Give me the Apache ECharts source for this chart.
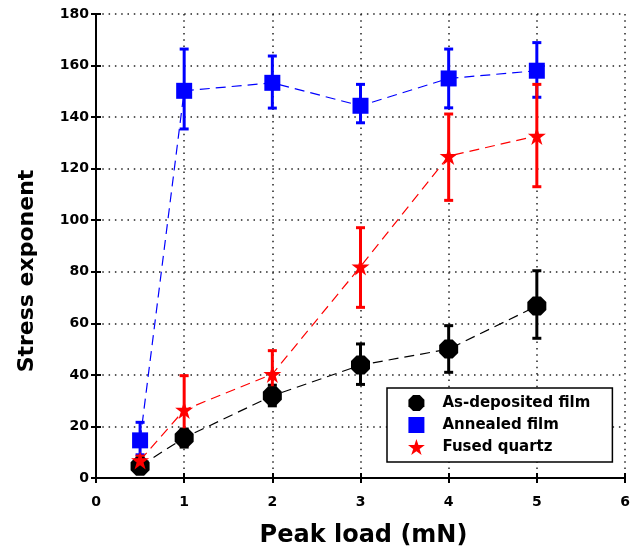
<!DOCTYPE html>
<html>
<head>
<meta charset="utf-8">
<script src="https://cdn.jsdelivr.net/npm/echarts@6/dist/echarts.min.js"></script>
<style>
  html, body { margin: 0; padding: 0; background: #fff; }
  #chart { width: 640px; height: 551px; }
</style>
</head>
<body>
<div id="chart"></div>
<script>
// Peak load values (mN)
const loads = [0.5, 1, 2, 3, 4, 5];

// As-deposited film: mean stress exponent with lower/upper error limits
const asDeposited     = [4.6, 15.6, 31.9, 43.8, 50.0, 66.7];
const asDepositedLow  = [3.0, 12.0, 28.0, 36.3, 41.0, 54.2];
const asDepositedHigh = [6.5, 19.0, 36.0, 52.0, 59.1, 80.4];

// Annealed film
const annealed     = [14.6, 150.2, 153.3, 144.4, 155.0, 158.0];
const annealedLow  = [9.0, 135.4, 143.5, 137.8, 143.6, 147.7];
const annealedHigh = [21.6, 166.4, 163.7, 152.7, 166.4, 168.9];

// Fused quartz
const fused     = [6.8, 26.4, 40.3, 82.0, 124.9, 132.7];
const fusedLow  = [4.5, 12.6, 31.2, 66.2, 107.7, 113.0];
const fusedHigh = [8.5, 39.7, 49.4, 97.1, 141.2, 152.7];

const seriesNames = ['As-deposited film', 'Annealed film', 'Fused quartz'];
const xTicks = [0, 1, 2, 3, 4, 5, 6];
const yTicks = [0, 20, 40, 60, 80, 100, 120, 140, 160, 180];

const FONT = 'DejaVu Sans';
const OCTAGON = 'path://M29,0 L71,0 L100,29 L100,71 L71,100 L29,100 L0,71 L0,29 Z';
const STAR = 'path://M100,0 L122.45,69.1 L195.11,69.1 L136.33,111.8 L158.78,180.9 L100,138.2 L41.22,180.9 L63.67,111.8 L4.89,69.1 L77.55,69.1 Z';

function points(ys) { return loads.map((x, i) => [x, ys[i]]); }
function bars(lo, hi) { return loads.map((x, i) => [x, lo[i], hi[i]]); }

// Vertical error bar with horizontal caps
function errorBarRenderer(color) {
  return function (params, api) {
    const x = api.value(0);
    const lo = api.coord([x, api.value(1)]);
    const hi = api.coord([x, api.value(2)]);
    const half = 4.5;
    const style = { stroke: color, lineWidth: 3, fill: null };
    return {
      type: 'group',
      children: [
        { type: 'line', shape: { x1: lo[0], y1: lo[1], x2: hi[0], y2: hi[1] }, style },
        { type: 'line', shape: { x1: lo[0] - half, y1: lo[1], x2: lo[0] + half, y2: lo[1] }, style },
        { type: 'line', shape: { x1: hi[0] - half, y1: hi[1], x2: hi[0] + half, y2: hi[1] }, style }
      ]
    };
  };
}

function lineSeries(name, data, color, symbol, size) {
  return {
    name, type: 'line', data: points(data),
    symbol, symbolSize: size, showSymbol: true,
    lineStyle: { color, width: 1.2, type: [10, 6] },
    itemStyle: { color, borderWidth: 0 },
    emphasis: { disabled: true },
    z: 3
  };
}

function barSeries(name, lo, hi, color) {
  return {
    name, type: 'custom', data: bars(lo, hi),
    renderItem: errorBarRenderer(color),
    encode: { x: 0, y: [1, 2] },
    z: 2
  };
}

const axisLine = { show: true, lineStyle: { color: '#000', width: 2 } };
const axisTick = { show: true, inside: true, length: 5, lineStyle: { color: '#000', width: 2 } };
const gridLine = { show: true, lineStyle: { color: '#222', width: 1.5, type: [1.5, 4.8] } };
const labelStyle = { color: '#000', fontFamily: FONT, fontWeight: 'bold', fontSize: 14 };

const chart = echarts.init(document.getElementById('chart'), null, { renderer: 'canvas' });
chart.setOption({
  backgroundColor: '#fff',
  animation: false,
  grid: { left: 96, right: 15, top: 14, bottom: 73, containLabel: false, outerBoundsMode: 'none' },
  xAxis: [
    {
      type: 'value', min: xTicks[0], max: xTicks[xTicks.length - 1], interval: 1,
      position: 'bottom',
      name: 'Peak load (mN)', nameLocation: 'middle', nameGap: 46,
      nameTextStyle: { color: '#000', fontFamily: FONT, fontWeight: 'bold', fontSize: 24, padding: [0, 0, 0, 6] },
      axisLine, axisTick,
      axisLabel: Object.assign({ margin: 17 }, labelStyle),
      splitLine: gridLine
    },
    {
      type: 'value', min: xTicks[0], max: xTicks[xTicks.length - 1], interval: 1,
      position: 'top',
      axisLine, axisTick, axisLabel: { show: false }, splitLine: { show: false }
    }
  ],
  yAxis: [
    {
      type: 'value', min: yTicks[0], max: yTicks[yTicks.length - 1], interval: 20,
      position: 'left',
      name: 'Stress exponent', nameLocation: 'middle', nameGap: 58,
      nameTextStyle: { color: '#000', fontFamily: FONT, fontWeight: 'bold', fontSize: 22, padding: [0, 50, 0, 0] },
      axisLine, axisTick,
      axisLabel: Object.assign({ margin: 7 }, labelStyle),
      splitLine: gridLine
    },
    {
      type: 'value', min: yTicks[0], max: yTicks[yTicks.length - 1], interval: 20,
      position: 'right',
      axisLine, axisTick, axisLabel: { show: false }, splitLine: { show: false }
    }
  ],
  legend: {
    orient: 'vertical',
    left: 387, top: 388,
    padding: [7, 22, 7, 21],
    itemGap: 6, itemWidth: 18, itemHeight: 16,
    backgroundColor: '#fff',
    borderColor: '#000', borderWidth: 1.5,
    selectedMode: false,
    textStyle: { color: '#000', fontFamily: FONT, fontWeight: 'bold', fontSize: 15, padding: [0, 0, 0, 12] },
    data: [
      { name: seriesNames[0], icon: OCTAGON, itemStyle: { color: '#000' } },
      { name: seriesNames[1], icon: 'path://M10,10 L90,10 L90,90 L10,90 Z', itemStyle: { color: '#0000ff' } },
      { name: seriesNames[2], icon: STAR, itemStyle: { color: '#ff0000' } }
    ]
  },
  series: [
    barSeries(seriesNames[0], asDepositedLow, asDepositedHigh, '#000'),
    lineSeries(seriesNames[0], asDeposited, '#000', OCTAGON, 19),
    barSeries(seriesNames[1], annealedLow, annealedHigh, '#0000ff'),
    lineSeries(seriesNames[1], annealed, '#0000ff', 'rect', 16),
    barSeries(seriesNames[2], fusedLow, fusedHigh, '#ff0000'),
    lineSeries(seriesNames[2], fused, '#ff0000', STAR, 18)
  ]
});
</script>
</body>
</html>
